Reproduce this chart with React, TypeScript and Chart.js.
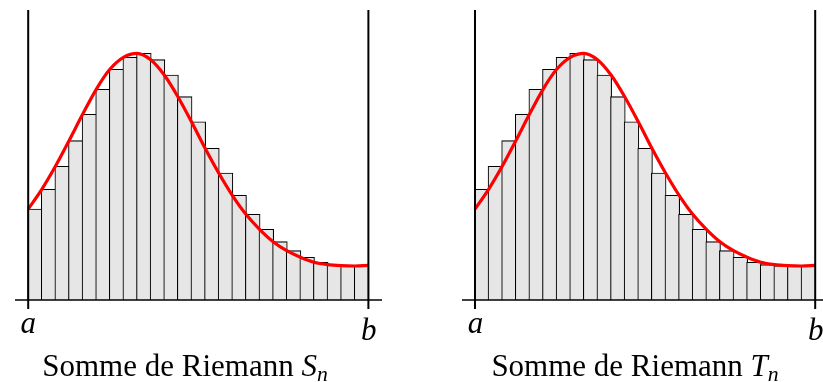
import React, { useEffect, useRef } from 'react';
import { Chart, registerables } from 'chart.js';

Chart.register(...registerables);

// Subdivision nodes of [a, b] (n = 25)
const NODES = [0, 1, 2, 3, 4, 5, 6, 7, 8, 9, 10, 11, 12, 13, 14, 15, 16, 17, 18, 19, 20, 21, 22, 23, 24, 25];
// f(x_k) read at every node
const F_VALUES = [
  0.91, 1.107, 1.337, 1.593, 1.857, 2.107, 2.307, 2.427, 2.467, 2.403, 2.25, 2.033, 1.782,
  1.517, 1.27, 1.047, 0.857, 0.707, 0.583, 0.493, 0.427, 0.377, 0.353, 0.343, 0.34, 0.346,
];
// Left sum S_n uses f(x_0..x_24), right sum T_n uses f(x_1..x_25)
const LEFT_HEIGHTS = F_VALUES.slice(0, 25);
const RIGHT_HEIGHTS = F_VALUES.slice(1);

const AXIS_LABELS = ['a', 'b'];
const TITLES = ['S', 'T'];

const Y_MIN = -0.09;
const Y_MAX = 2.9;

function makeConfig(heights: number[], xMin: number, xMax: number, padLeft: number, padRight: number): any {
  const a = NODES[0];
  const b = NODES[NODES.length - 1];
  const bars = heights.map((h, i) => ({ x: (NODES[i] + NODES[i + 1]) / 2, y: h }));
  const curve = F_VALUES.map((y, i) => ({ x: NODES[i], y }));
  const axisLine = (data: any[], width: number) => ({
    type: 'line',
    data,
    borderColor: '#000',
    borderWidth: width,
    pointRadius: 0,
    fill: false,
    order: 1,
  });
  return {
    type: 'bar',
    data: {
      datasets: [
        {
          type: 'bar',
          data: bars,
          backgroundColor: '#e6e6e6',
          borderColor: '#000',
          borderWidth: 1.1,
          borderSkipped: 'bottom',
          barThickness: 14.7,
          order: 3,
        },
        {
          type: 'line',
          data: curve,
          borderColor: '#ff0000',
          borderWidth: 3.2,
          pointRadius: 0,
          cubicInterpolationMode: 'monotone',
          fill: false,
          order: 2,
        },
        axisLine([{ x: a, y: Y_MIN }, { x: a, y: Y_MAX }], 2),
        axisLine([{ x: b, y: Y_MIN }, { x: b, y: Y_MAX }], 2),
        axisLine([{ x: xMin, y: 0 }, { x: xMax, y: 0 }], 1.4),
      ],
    },
    options: {
      animation: false,
      responsive: false,
      events: [],
      layout: { padding: { left: padLeft, right: padRight, top: 10, bottom: 73 } },
      plugins: { legend: { display: false }, tooltip: { enabled: false }, title: { display: false } },
      scales: {
        x: { type: 'linear', min: xMin, max: xMax, offset: false, display: false },
        y: { type: 'linear', min: Y_MIN, max: Y_MAX, display: false },
      },
    },
  };
}

function Panel(props: {
  heights: number[];
  left: number;
  xMin: number;
  xMax: number;
  padLeft: number;
  padRight: number;
}) {
  const ref = useRef<HTMLCanvasElement>(null);
  useEffect(() => {
    if (!ref.current) return;
    const chart = new Chart(ref.current, makeConfig(props.heights, props.xMin, props.xMax, props.padLeft, props.padRight));
    return () => chart.destroy();
  }, []);
  return (
    <canvas
      ref={ref}
      width={411}
      height={382}
      style={{ position: 'absolute', left: props.left, top: 0, width: 411, height: 382 }}
    />
  );
}

const labelFont = '"Liberation Serif", "Times New Roman", serif';

function Label(props: { cx: number; top: number; children: any; width?: number; italic?: boolean; size: number }) {
  const w = props.width || 100;
  return (
    <div
      style={{
        position: 'absolute',
        left: props.cx - w / 2,
        top: props.top,
        width: w,
        textAlign: 'center',
        fontFamily: labelFont,
        fontSize: props.size,
        lineHeight: 1,
        fontStyle: props.italic ? 'italic' : 'normal',
        whiteSpace: 'nowrap',
        color: '#000',
      }}
    >
      {props.children}
    </div>
  );
}

function Title(props: { cx: number; letter: string }) {
  return (
    <Label cx={props.cx} top={350} width={420} size={31}>
      Somme de Riemann <i>{props.letter}</i>
      <span style={{ fontSize: '0.7em', fontStyle: 'italic', position: 'relative', top: '0.25em' }}>n</span>
    </Label>
  );
}

export default function App() {
  return (
    <div style={{ position: 'fixed', left: 0, top: 0, width: 823, height: 382, background: '#fff', overflow: 'hidden' }}>
      <Panel heights={LEFT_HEIGHTS} left={0} xMin={-0.97} xMax={26.0} padLeft={15} padRight={29} />
      <Panel heights={RIGHT_HEIGHTS} left={412} xMin={-0.955} xMax={25.573} padLeft={50} padRight={0} />
      <Label cx={28.3} top={307} size={31} italic>{AXIS_LABELS[0]}</Label>
      <Label cx={368.8} top={314} size={31} italic>{AXIS_LABELS[1]}</Label>
      <Label cx={475.5} top={307} size={31} italic>{AXIS_LABELS[0]}</Label>
      <Label cx={815.8} top={314} size={31} italic>{AXIS_LABELS[1]}</Label>
      <Title cx={185} letter={TITLES[0]} />
      <Title cx={635} letter={TITLES[1]} />
    </div>
  );
}
